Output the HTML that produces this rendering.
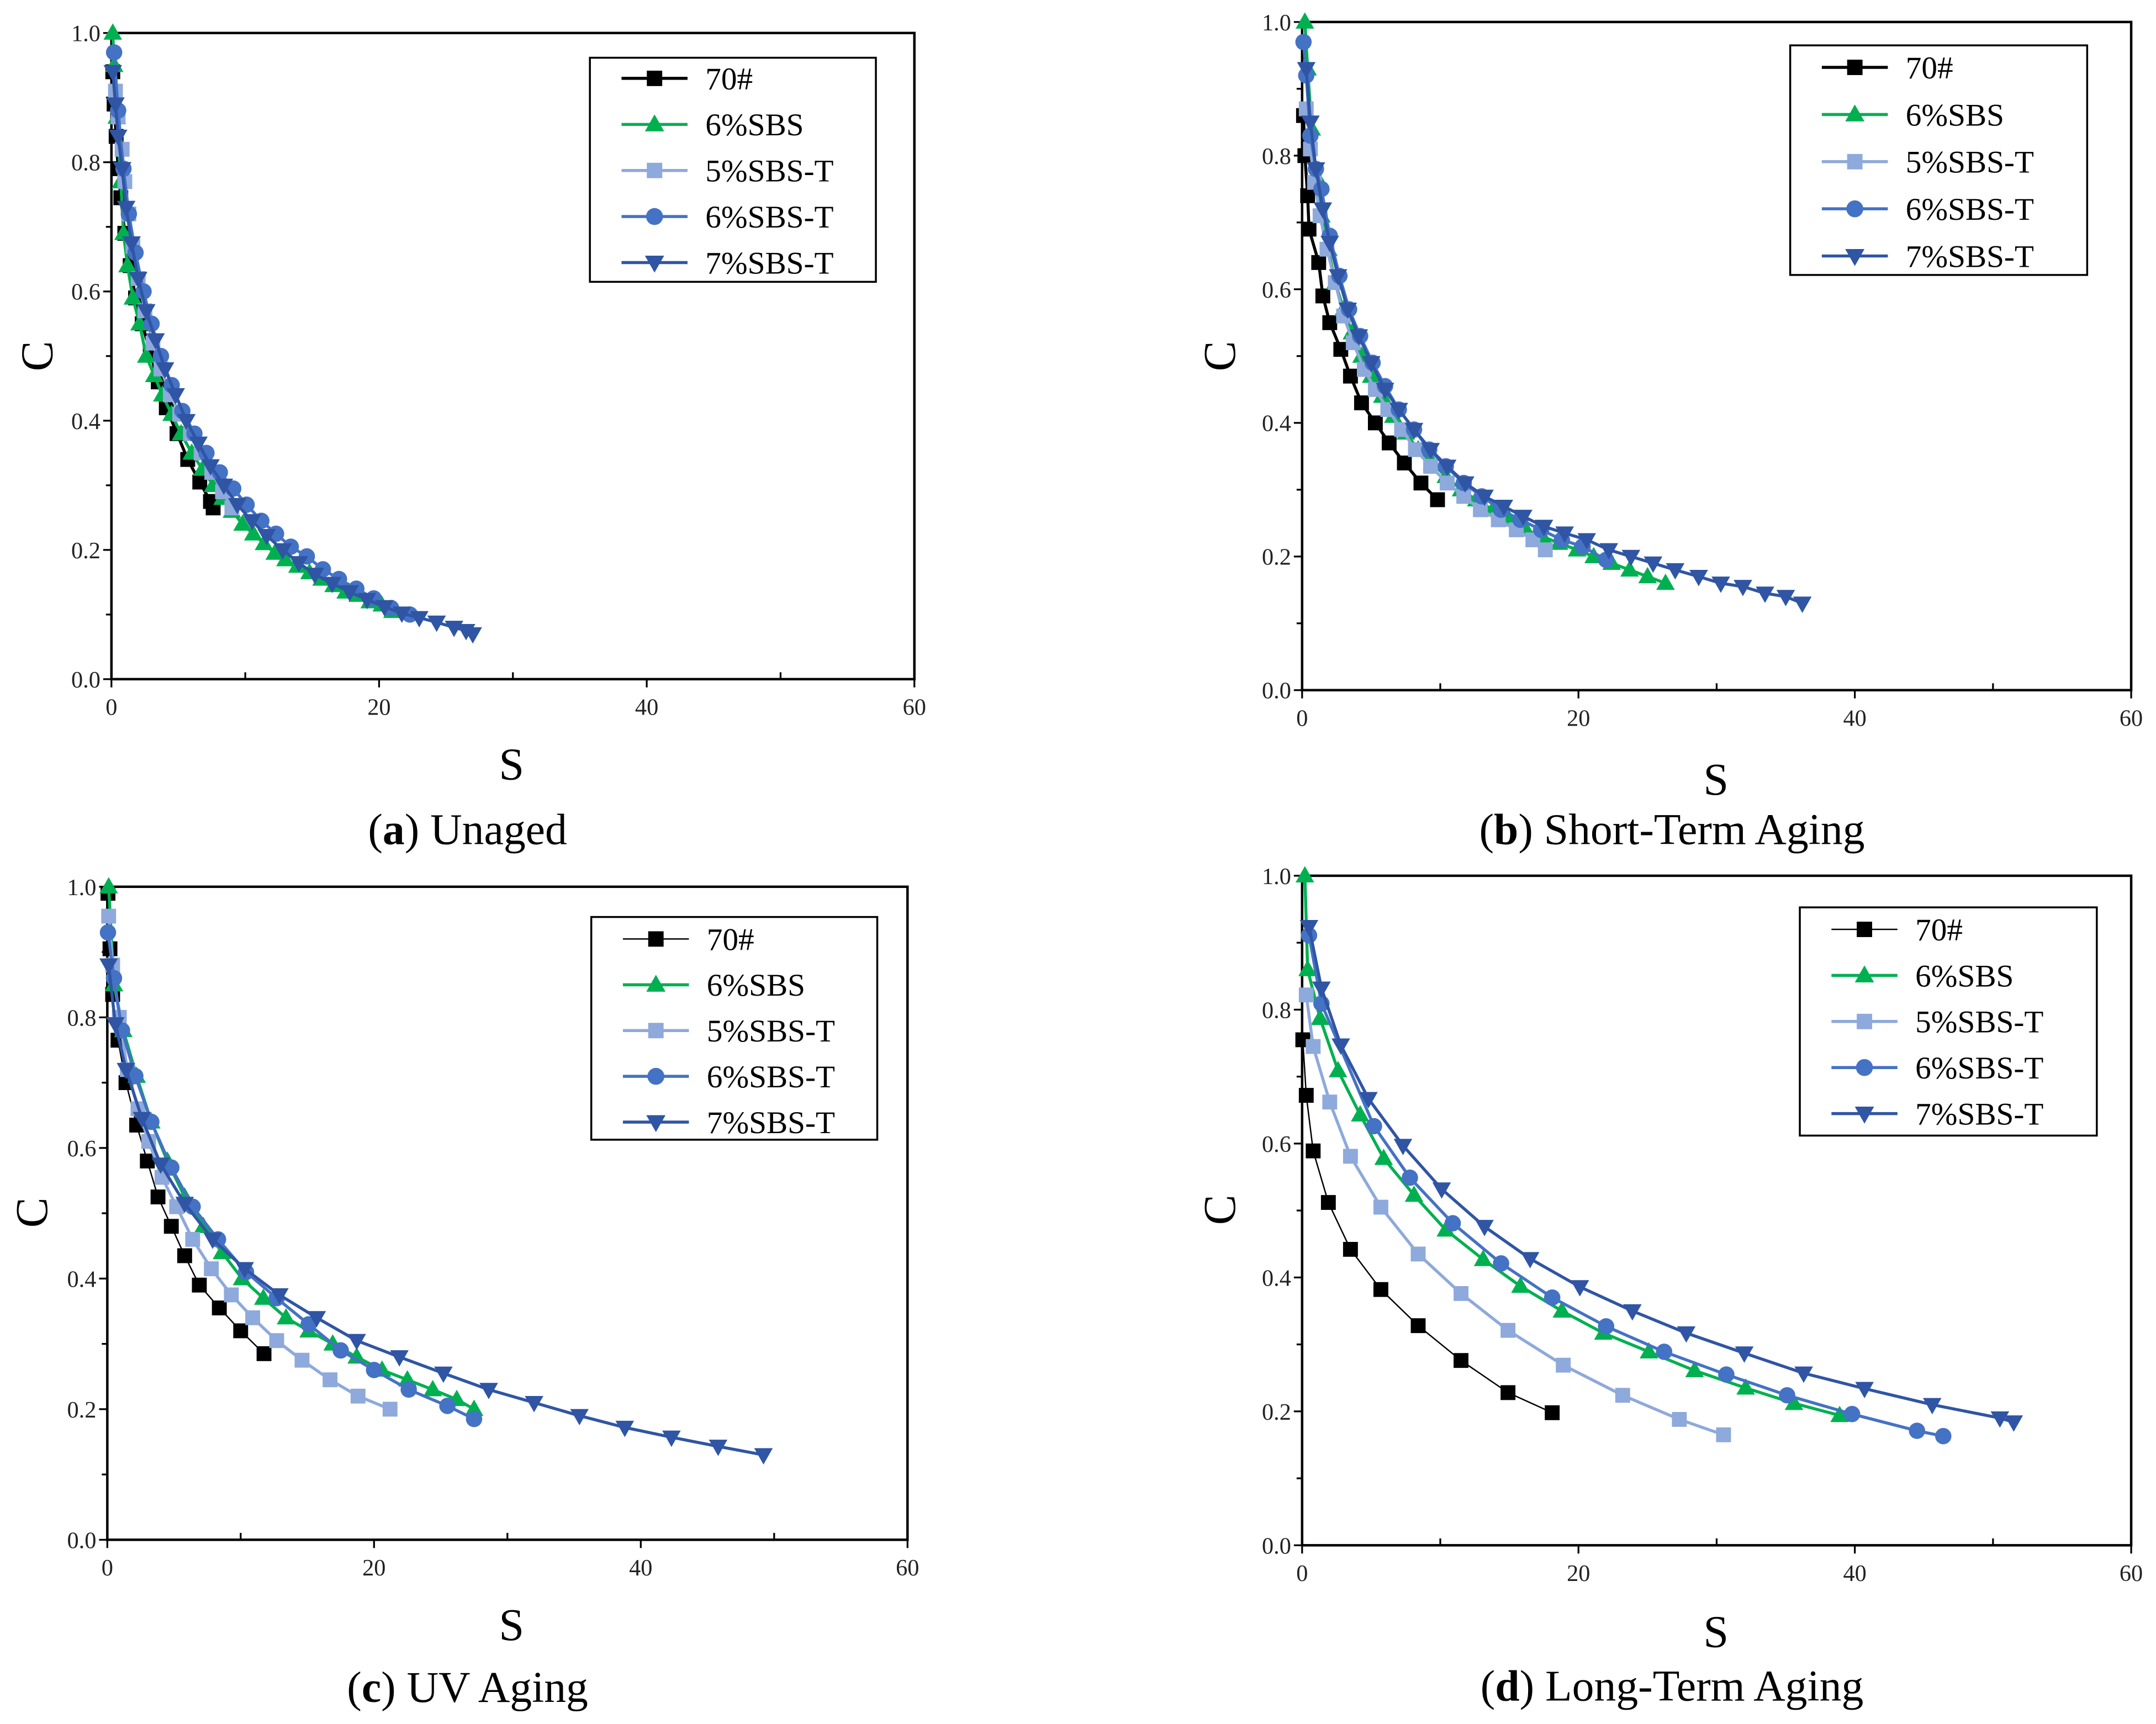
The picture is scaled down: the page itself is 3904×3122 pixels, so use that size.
<!DOCTYPE html>
<html><head><meta charset="utf-8">
<style>
html,body{margin:0;padding:0;background:#fff;}
svg{display:block;font-family:"Liberation Serif","Times New Roman",serif;}
svg text{font-family:"Liberation Serif","Times New Roman",serif;}
</style></head>
<body>
<svg id="fig" width="3904" height="3122" viewBox="0 0 1568 1254" font-family="Liberation Serif, serif" xmlns="http://www.w3.org/2000/svg"></svg>
<script>
// ---------- data ----------
const seriesNames = ["70#","6%SBS","5%SBS-T","6%SBS-T","7%SBS-T"];
const xTicks = [0,20,40,60];
const yTicks = [0.0,0.2,0.4,0.6,0.8,1.0];

// Panel (a) Unaged
const a70S = [0.1,0.2,0.35,0.5,0.7,1.0,1.4,1.8,2.3,2.9,3.5,4.1,4.9,5.7,6.6,7.4,7.6];
const a70C = [0.94,0.89,0.84,0.79,0.745,0.69,0.64,0.59,0.55,0.505,0.46,0.42,0.38,0.34,0.305,0.275,0.265];
const aSBS_S = [0.1,0.2,0.4,0.7,0.9,1.2,1.6,2.1,2.6,3.2,3.8,4.5,5.2,6.0,6.8,7.6,8.3,9.0,9.8,10.6,11.4,12.2,13.0,13.9,14.8,15.7,16.6,17.5,18.4,19.3,20.2,21.0];
const aSBS_C = [1.0,0.95,0.87,0.77,0.69,0.64,0.59,0.55,0.50,0.47,0.44,0.41,0.38,0.35,0.325,0.30,0.28,0.26,0.24,0.225,0.21,0.195,0.185,0.175,0.165,0.155,0.145,0.135,0.13,0.12,0.115,0.105];
const a5T_S = [0.3,0.5,0.8,1.0,1.3,1.6,2.0,2.5,3.1,3.7,4.4,5.1,5.9,6.7,7.5,8.3,9.0];
const a5T_C = [0.91,0.87,0.82,0.77,0.72,0.67,0.62,0.57,0.52,0.48,0.44,0.41,0.38,0.35,0.32,0.29,0.265];
const a6T_S = [0.2,0.5,0.9,1.3,1.8,2.4,3.0,3.7,4.5,5.3,6.2,7.1,8.1,9.1,10.1,11.2,12.3,13.4,14.6,15.8,17.0,18.3,19.6,20.9,22.3];
const a6T_C = [0.97,0.88,0.79,0.72,0.66,0.60,0.55,0.50,0.455,0.415,0.38,0.35,0.32,0.295,0.27,0.245,0.225,0.205,0.19,0.17,0.155,0.14,0.125,0.11,0.10];
const a7T_S = [0.1,0.3,0.5,0.8,1.1,1.5,2.0,2.6,3.3,4.0,4.8,5.6,6.5,7.4,8.4,9.4,10.5,11.6,12.8,14.0,15.2,16.5,17.8,19.1,20.4,21.7,23.0,24.3,25.6,26.5,27.0];
const a7T_C = [0.94,0.89,0.84,0.79,0.73,0.675,0.62,0.57,0.525,0.48,0.44,0.40,0.365,0.33,0.30,0.27,0.245,0.222,0.2,0.18,0.162,0.148,0.135,0.123,0.112,0.102,0.095,0.088,0.08,0.075,0.07];

// Panel (b) Short-Term Aging
const b70S = [0.1,0.2,0.4,0.5,1.2,1.5,2.0,2.8,3.5,4.3,5.3,6.3,7.4,8.6,9.8];
const b70C = [0.86,0.8,0.74,0.69,0.64,0.59,0.55,0.51,0.47,0.43,0.40,0.37,0.34,0.31,0.285];
const bSBS_S = [0.2,0.4,0.7,1.0,1.4,1.9,2.4,3.0,3.6,4.3,5.0,5.8,6.6,7.5,8.4,9.4,10.4,11.5,12.6,13.8,15.0,16.2,17.4,18.6,19.9,21.1,22.4,23.7,25.0,26.3];
const bSBS_C = [1.0,0.93,0.84,0.77,0.71,0.66,0.61,0.57,0.535,0.50,0.47,0.44,0.41,0.385,0.36,0.34,0.32,0.30,0.285,0.27,0.255,0.24,0.23,0.22,0.21,0.20,0.19,0.18,0.17,0.16];
const b5T_S = [0.3,0.6,0.9,1.3,1.8,2.4,3.0,3.7,4.5,5.3,6.2,7.2,8.2,9.3,10.5,11.7,12.9,14.2,15.5,16.7,17.6];
const b5T_C = [0.87,0.81,0.76,0.71,0.66,0.61,0.56,0.52,0.48,0.45,0.42,0.39,0.36,0.335,0.31,0.29,0.27,0.255,0.24,0.225,0.21];
const b6T_S = [0.1,0.3,0.6,1.0,1.4,2.0,2.7,3.4,4.2,5.1,6.0,7.0,8.1,9.2,10.4,11.7,13.0,14.4,15.8,17.3,18.8,20.3,22.0];
const b6T_C = [0.97,0.92,0.83,0.78,0.75,0.68,0.62,0.57,0.53,0.49,0.455,0.42,0.39,0.36,0.335,0.31,0.29,0.27,0.255,0.24,0.225,0.215,0.195];
const b7T_S = [0.3,0.6,1.0,1.5,2.0,2.6,3.3,4.1,5.0,6.0,7.0,8.1,9.3,10.5,11.8,13.2,14.6,16.0,17.5,19.0,20.6,22.2,23.8,25.4,27.0,28.7,30.3,31.9,33.5,35.0,36.2];
const b7T_C = [0.93,0.85,0.78,0.72,0.67,0.62,0.57,0.53,0.49,0.45,0.42,0.39,0.36,0.335,0.31,0.29,0.275,0.26,0.245,0.235,0.225,0.21,0.2,0.19,0.18,0.17,0.16,0.155,0.145,0.14,0.13];

// Panel (c) UV Aging
const c70S = [0.05,0.2,0.4,0.8,1.4,2.2,3.0,3.8,4.8,5.8,6.9,8.4,10.0,11.75];
const c70C = [0.99,0.905,0.835,0.765,0.70,0.635,0.58,0.525,0.48,0.435,0.39,0.355,0.32,0.285];
const cSBS_S = [0.1,0.5,1.2,2.2,3.3,4.5,5.8,7.2,8.6,10.1,11.7,13.4,15.1,16.9,18.7,20.6,22.5,24.4,26.2,27.5];
const cSBS_C = [1.0,0.85,0.78,0.71,0.64,0.58,0.525,0.48,0.44,0.40,0.37,0.34,0.32,0.30,0.28,0.26,0.245,0.23,0.215,0.20];
const c5T_S = [0.1,0.4,0.9,1.5,2.3,3.1,4.1,5.2,6.4,7.8,9.3,10.9,12.7,14.6,16.7,18.8,21.2];
const c5T_C = [0.955,0.88,0.80,0.72,0.66,0.61,0.555,0.51,0.46,0.415,0.375,0.34,0.305,0.275,0.245,0.22,0.2];
const c6T_S = [0.05,0.5,1.1,2.1,3.3,4.8,6.4,8.3,10.4,12.7,15.1,17.5,20.0,22.6,25.5,27.5];
const c6T_C = [0.93,0.86,0.78,0.71,0.64,0.57,0.51,0.46,0.41,0.37,0.33,0.29,0.26,0.23,0.205,0.185];
const c7T_S = [0.1,0.6,1.4,2.6,4.0,5.8,7.9,10.3,12.9,15.7,18.7,21.9,25.2,28.6,32.0,35.4,38.8,42.3,45.8,49.2];
const c7T_C = [0.88,0.79,0.72,0.645,0.575,0.515,0.46,0.415,0.375,0.34,0.305,0.28,0.255,0.23,0.21,0.19,0.172,0.157,0.143,0.13];

// Panel (d) Long-Term Aging
const d70S = [0.05,0.3,0.8,1.9,3.5,5.7,8.4,11.5,14.9,18.1];
const d70C = [0.755,0.672,0.589,0.512,0.442,0.382,0.328,0.276,0.228,0.198];
const dSBS_S = [0.2,0.4,1.3,2.6,4.2,5.9,8.1,10.4,13.1,15.8,18.8,21.8,25.1,28.4,32.1,35.6,38.9];
const dSBS_C = [1.0,0.86,0.787,0.709,0.643,0.578,0.523,0.471,0.427,0.387,0.35,0.317,0.289,0.261,0.235,0.212,0.194];
const d5T_S = [0.3,0.8,2.0,3.5,5.7,8.4,11.5,14.9,18.9,23.2,27.3,30.5];
const d5T_C = [0.822,0.745,0.662,0.581,0.505,0.435,0.376,0.321,0.269,0.224,0.188,0.165];
const d6T_S = [0.5,1.4,5.2,7.8,10.9,14.4,18.1,22.0,26.2,30.7,35.1,39.8,44.5,46.4];
const d6T_C = [0.911,0.809,0.626,0.549,0.481,0.421,0.37,0.327,0.289,0.255,0.224,0.196,0.171,0.163];
const d7T_S = [0.5,1.4,2.8,4.8,7.3,10.1,13.2,16.5,20.1,23.9,27.8,32.0,36.3,40.7,45.6,50.5,51.5];
const d7T_C = [0.924,0.832,0.747,0.667,0.597,0.532,0.476,0.428,0.386,0.35,0.317,0.287,0.257,0.234,0.21,0.19,0.184];

// ---------- drawing ----------
const NS = "http://www.w3.org/2000/svg";
const svg = document.getElementById("fig");
const FONT = "'Liberation Serif', serif";
const colors = ["#000000","#00b050","#8ea9db","#4472c4","#2f55a4"];
const markers = ["square","tri","square","circle","dtri"];

function mk(tag, attrs, parent){
  const el = document.createElementNS(NS, tag);
  for (const k in attrs) el.setAttribute(k, attrs[k]);
  if (tag === "text") el.setAttribute("font-family", FONT);
  (parent||svg).appendChild(el);
  return el;
}
function drawMarker(g, type, x, y, color, s){
  let el;
  if (type==="square") el = mk("rect",{x:x-s,y:y-s,width:2*s,height:2*s,fill:color},g);
  else if (type==="circle") el = mk("circle",{cx:x,cy:y,r:s*1.1,fill:color},g);
  else if (type==="tri") el = mk("polygon",{points:`${x},${y-s*1.3} ${x-s*1.25},${y+s*0.9} ${x+s*1.25},${y+s*0.9}`,fill:color},g);
  else el = mk("polygon",{points:`${x},${y+s*1.3} ${x-s*1.25},${y-s*0.9} ${x+s*1.25},${y-s*0.9}`,fill:color},g);
  
  
}

function panel(cfg){
  const {id,L,R,T,B,S,leg,cap,capBold,xt,yt,thin70} = cfg;
  const g = mk("g",{});
  
  
  const xs = v => L + (v-0)/(60-0)*(R-L);
  const ys = v => B - (v-0)/(1-0)*(B-T);
  const fr = mk("rect",{x:L,y:T,width:R-L,height:B-T,fill:"none",stroke:"#000","stroke-width":1.8},g);
  
  
  for (let v=0; v<=60; v+=10){
    const major = v%20===0;
    mk("line",{x1:xs(v),x2:xs(v),y1:B,y2:B+(major?6:-5),stroke:"#000","stroke-width":1.3},g);
  }
  for (let i=0;i<=10;i++){
    const v=i/10, major=i%2===0;
    mk("line",{x1:L,x2:L-(major?6:4),y1:ys(v),y2:ys(v),stroke:"#000","stroke-width":1.3},g);
  }
  xTicks.forEach(v=>{
    const t = mk("text",{x:xs(v),y:B+26,"text-anchor":"middle","font-size":17,fill:"#222"},g);
    t.textContent = v;
    
    
  });
  yTicks.forEach(v=>{
    const t = mk("text",{x:L-8,y:ys(v)+6,"text-anchor":"end","font-size":17,fill:"#222"},g);
    t.textContent = v.toFixed(1);
    
    
  });
  const xtl = mk("text",{x:xt[0],y:xt[1],"text-anchor":"middle","font-size":33},g);
  xtl.textContent = "S";
  
  
  const ytl = mk("text",{x:yt[0],y:yt[1],"text-anchor":"middle","font-size":33,transform:`rotate(-90 ${yt[0]} ${yt[1]})`},g);
  ytl.textContent = "C";
  
  
  const ct = mk("text",{x:cap[0],y:cap[1],"text-anchor":"middle","font-size":32},g);
  
  
  const t1 = mk("tspan",{},ct); t1.textContent="(";
  const t2 = mk("tspan",{"font-weight":"bold"},ct); t2.textContent=capBold;
  const t3 = mk("tspan",{},ct); t3.textContent=") "+cap[2];
  S.forEach((ser,i)=>{
    const sg = mk("g",{},g);
    
    
    const pts = ser[0].map((s,j)=>xs(s)+","+ys(ser[1][j])).join(" ");
    const w = (i===0 && thin70) ? 1 : 2.2;
    const ln = mk("polyline",{points:pts,fill:"none",stroke:colors[i],"stroke-width":w,"stroke-linejoin":"round"},sg);
    
    
    ser[0].forEach((s,j)=>drawMarker(sg,markers[i],xs(s),ys(ser[1][j]),colors[i],5.4));
  });
  const lg = mk("g",{},g);
  
  
  mk("rect",{x:leg.x,y:leg.y,width:leg.w,height:leg.h,fill:"#fff",stroke:"#000","stroke-width":1.4},lg);
  seriesNames.forEach((n,i)=>{
    const y = leg.y0 + i*leg.dy;
    const e = mk("g",{},lg);
    
    
    mk("line",{x1:leg.x+23,x2:leg.x+71,y1:y,y2:y,stroke:colors[i],"stroke-width":(i===0&&thin70)?1:2.2},e);
    drawMarker(e,markers[i],leg.x+47,y,colors[i],5.6);
    const t = mk("text",{x:leg.x+84,y:y+8,"font-size":23},e);
    t.textContent = n;
  });
}

panel({id:"a",L:81,R:665,T:24,B:494,xt:[372,567],yt:[38,259],cap:[340,614,"Unaged"],capBold:"a",
  leg:{x:429,y:42,w:208,h:163,y0:57,dy:33.5},
  S:[[a70S,a70C],[aSBS_S,aSBS_C],[a5T_S,a5T_C],[a6T_S,a6T_C],[a7T_S,a7T_C]]});
panel({id:"b",L:947,R:1550,T:16,B:502,xt:[1248,578],yt:[898,259],cap:[1216,614,"Short-Term Aging"],capBold:"b",
  leg:{x:1302,y:33,w:216,h:167,y0:49,dy:34.3},
  S:[[b70S,b70C],[bSBS_S,bSBS_C],[b5T_S,b5T_C],[b6T_S,b6T_C],[b7T_S,b7T_C]]});
panel({id:"c",L:78,R:660,T:645,B:1120,xt:[372,1193],yt:[34,882],cap:[340,1238,"UV Aging"],capBold:"c",thin70:true,
  leg:{x:430,y:667,w:208,h:162,y0:683,dy:33.3},
  S:[[c70S,c70C],[cSBS_S,cSBS_C],[c5T_S,c5T_C],[c6T_S,c6T_C],[c7T_S,c7T_C]]});
panel({id:"d",L:947,R:1550,T:637,B:1124,xt:[1248,1198],yt:[898,880],cap:[1216,1237,"Long-Term Aging"],capBold:"d",thin70:true,
  leg:{x:1309,y:660,w:216,h:166,y0:676,dy:33.5},
  S:[[d70S,d70C],[dSBS_S,dSBS_C],[d5T_S,d5T_C],[d6T_S,d6T_C],[d7T_S,d7T_C]]});
</script>
</body></html>
